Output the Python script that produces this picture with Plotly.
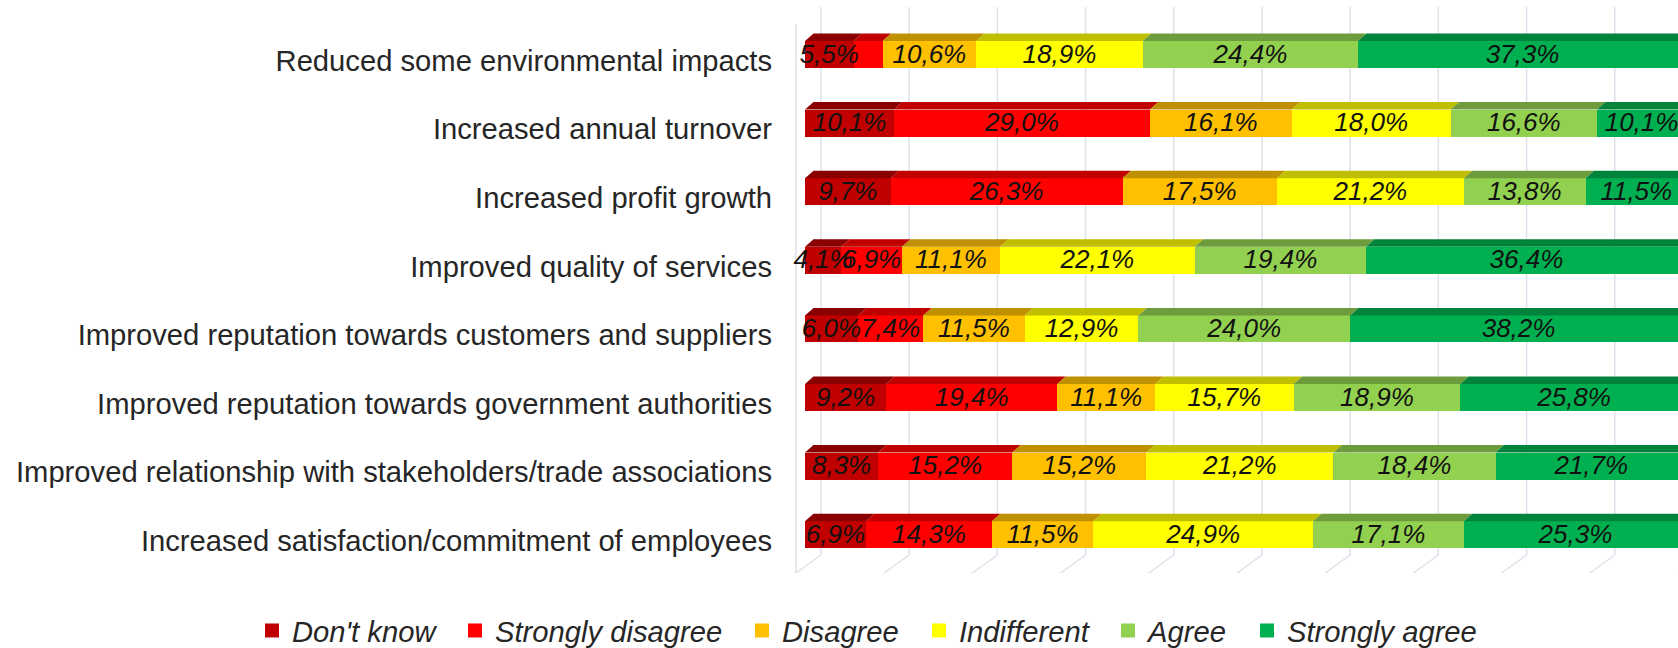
import plotly.graph_objects as go

categories = [
    "Reduced some environmental impacts",
    "Increased annual turnover",
    "Increased profit growth",
    "Improved quality of services",
    "Improved reputation towards customers and suppliers",
    "Improved reputation towards government authorities",
    "Improved relationship with stakeholders/trade associations",
    "Increased satisfaction/commitment of employees",
]
dont_know = [5.5, 10.1, 9.7, 4.1, 6.0, 9.2, 8.3, 6.9]
strongly_disagree = [3.3, 29.0, 26.3, 6.9, 7.4, 19.4, 15.2, 14.3]
disagree = [10.6, 16.1, 17.5, 11.1, 11.5, 11.1, 15.2, 11.5]
indifferent = [18.9, 18.0, 21.2, 22.1, 12.9, 15.7, 21.2, 24.9]
agree = [24.4, 16.6, 13.8, 19.4, 24.0, 18.9, 18.4, 17.1]
strongly_agree = [37.3, 10.1, 11.5, 36.4, 38.2, 25.8, 21.7, 25.3]
hidden_labels = {("Strongly disagree", 0)}

series = [
    ("Don't know", dont_know, "#C00000", "#8A0000"),
    ("Strongly disagree", strongly_disagree, "#FF0000", "#C00000"),
    ("Disagree", disagree, "#FFC000", "#BF9000"),
    ("Indifferent", indifferent, "#FFFF00", "#BFBF00"),
    ("Agree", agree, "#92D050", "#6E9C3C"),
    ("Strongly agree", strongly_agree, "#00B050", "#00843C"),
]
legend_text_px = [292, 495, 782, 959, 1148, 1287]

W, H = 1678, 648
L, B = 785, 58
PX_PER_PCT = 8.82
ROW_PX = 68.6
ROW0_PX = 54.5
BAR0_PX = 805
BAR_W = 27 / ROW_PX
DX = 8.5 / PX_PER_PCT
DY = 7.5 / ROW_PX
LABEL_DROP = 6.0 / ROW_PX
TEXT_DROP = 1.5 / ROW_PX
rows = list(range(len(categories)))

x_range = [(L - BAR0_PX) / PX_PER_PCT, (W - BAR0_PX) / PX_PER_PCT]
y_top = (0 - ROW0_PX) / ROW_PX
y_bottom = (H - B - ROW0_PX) / ROW_PX

fig = go.Figure()
offset = [0.0] * len(rows)
tops, labels = [], []
for name, vals, color, dark in series:
    fig.add_trace(go.Bar(
        name=name, y=rows, x=vals, orientation="h", width=BAR_W,
        marker=dict(color=color, line=dict(width=0)), showlegend=False,
        cliponaxis=True, hoverinfo="skip",
    ))
    xs, ys, mids = [], [], []
    for i, v in enumerate(vals):
        a, b = offset[i], offset[i] + v
        t = i - BAR_W / 2
        xs += [a, b, b + DX, a + DX, a, None]
        ys += [t, t, t - DY, t - DY, t, None]
        mids.append((a + b) / 2)
        offset[i] = b
    tops.append(go.Scatter(x=xs, y=ys, mode="lines", fill="toself", fillcolor=dark,
                           line=dict(width=0), showlegend=False, hoverinfo="skip"))
    labels.append(go.Scatter(
        x=mids, y=[r + TEXT_DROP for r in rows], mode="text", showlegend=False,
        hoverinfo="skip", cliponaxis=False,
        text=["" if (name, i) in hidden_labels else f"{v:.1f}%".replace(".", ",") for i, v in enumerate(vals)],
        textposition="middle center",
        textfont=dict(family="Liberation Sans", size=26, color="#111111", style="italic"),
    ))
for tr in tops + labels:
    fig.add_trace(tr)

plot_w = W - L
plot_h = H - B
legends = {}
for i, (name, vals, color, dark) in enumerate(series):
    key = "legend" if i == 0 else f"legend{i + 1}"
    fig.add_trace(go.Scatter(name=name, x=[None], y=[None], mode="markers", legend=key,
                             marker=dict(symbol="square", size=14, color=color), hoverinfo="skip"))
    legends[key] = dict(
        orientation="h", x=(legend_text_px[i] - 40 - L) / plot_w, xanchor="left",
        y=-(605 - plot_h) / plot_h, yanchor="top", itemwidth=30, bgcolor="rgba(0,0,0,0)",
        font=dict(family="Liberation Sans", size=29.2, color="#262626", style="italic"),
    )

GRID = "#DCE1EA"
front = -1.02
back = 1.81
g_top = (7 - ROW0_PX) / ROW_PX
g_bot = (555 - ROW0_PX) / ROW_PX
f_bot = (573 - ROW0_PX) / ROW_PX
shapes = []
for k in range(0, 11):
    v = k * 10
    shapes.append(dict(type="line", xref="x", yref="y", layer="below",
                       x0=v + back, x1=v + back, y0=g_top, y1=g_bot,
                       line=dict(color=GRID, width=1.5)))
    shapes.append(dict(type="line", xref="x", yref="y", layer="below",
                       x0=v + back, x1=v + front, y0=g_bot, y1=f_bot,
                       line=dict(color=GRID, width=1.5)))
shapes.append(dict(type="line", xref="x", yref="y", layer="below",
                   x0=front, x1=front, y0=(24 - ROW0_PX) / ROW_PX, y1=f_bot,
                   line=dict(color=GRID, width=1.5)))

fig.update_layout(
    width=W, height=H, barmode="stack", plot_bgcolor="white", paper_bgcolor="white",
    margin=dict(l=L, r=0, t=0, b=B, pad=0, autoexpand=False), shapes=shapes,
    font=dict(family="Liberation Sans", color="#262626"),
    xaxis=dict(range=x_range, showgrid=False, zeroline=False, showticklabels=False, fixedrange=True),
    yaxis=dict(range=[y_bottom, y_top], tickmode="array",
               tickvals=[r + LABEL_DROP for r in rows], ticktext=categories,
               showgrid=False, zeroline=False, showline=False, ticks="",
               ticklabelstandoff=12, tickfont=dict(family="Liberation Sans", size=29.2, color="#262626")),
    showlegend=True,
    **legends,
)
fig.write_html("out.html", config={"displayModeBar": False},
               post_script="document.body.style.margin='0';document.documentElement.style.overflow='hidden';")
